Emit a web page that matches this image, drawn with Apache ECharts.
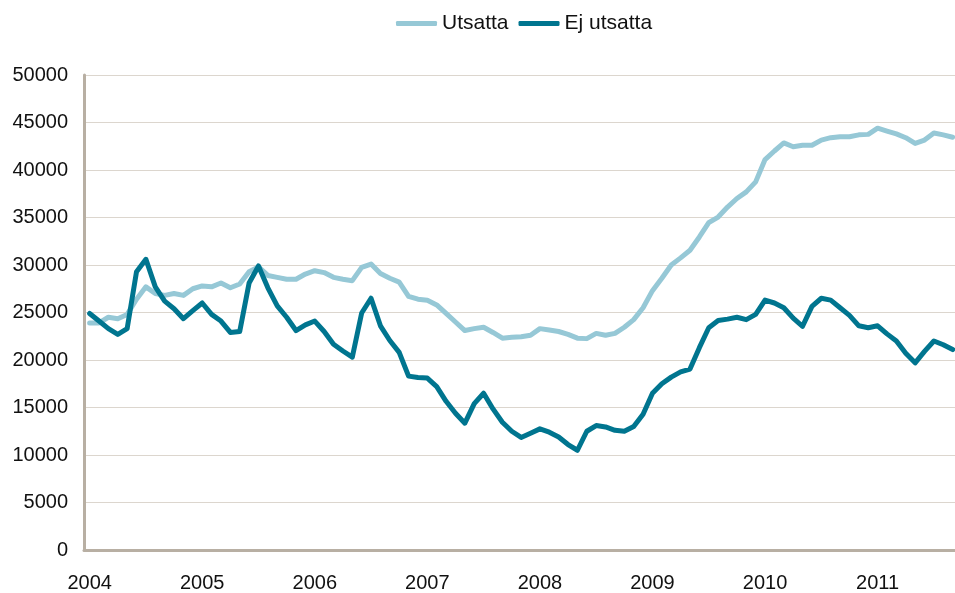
<!DOCTYPE html>
<html>
<head>
<meta charset="utf-8">
<script src="https://cdn.jsdelivr.net/npm/echarts@6/dist/echarts.min.js"></script>
<style>
html,body{margin:0;padding:0;background:#fff;}
#chart{width:955px;height:593px;}
</style>
</head>
<body>
<div id="chart"></div>
<script>
// Monthly data, Jan 2004 – Sep 2011
var yearLabels = ['2004','2005','2006','2007','2008','2009','2010','2011'];
var yTicks = [0,5000,10000,15000,20000,25000,30000,35000,40000,45000,50000];

var utsatta = [
23900,23900,24500,24350,24800,26400,27700,27000,26800,27000,26800,27500,
27800,27700,28100,27600,28000,29300,29800,28900,28700,28500,28500,29050,
29400,29200,28700,28500,28350,29750,30100,29100,28600,28200,26700,26400,
26300,25800,24900,24000,23100,23300,23450,22900,22300,22400,22450,22600,
23300,23150,23000,22700,22300,22250,22800,22600,22800,23450,24250,25500,
27300,28600,30000,30750,31550,32950,34450,35050,36100,37000,37700,38750,
41100,42000,42850,42450,42600,42600,43150,43400,43500,43500,43700,43750,
44400,44100,43800,43400,42800,43150,43900,43700,43450
];

var ejUtsatta = [
24900,24100,23300,22700,23300,29300,30600,27700,26200,25400,24350,25200,
26000,24800,24100,22900,23000,28100,29900,27600,25700,24500,23100,23700,
24100,23000,21650,20950,20300,24950,26500,23600,22050,20800,18300,18150,
18100,17200,15650,14400,13350,15400,16500,14850,13450,12500,11850,12300,
12750,12400,11900,11100,10500,12500,13100,12950,12600,12500,13000,14300,
16500,17500,18200,18750,19050,21300,23400,24150,24300,24500,24250,24800,
26300,26000,25500,24400,23550,25650,26500,26300,25500,24700,23600,23400,
23600,22750,22000,20700,19700,20900,22000,21600,21100
];

var seriesNames = ['Utsatta','Ej utsatta'];
var seriesColors = ['#96C8D6','#00758F'];

function toPairs(arr){ return arr.map(function(v,i){ return [i, v]; }); }
var yearPositions = yearLabels.map(function(_,k){ return k*12; });

var chart = echarts.init(document.getElementById('chart'), null, {renderer:'canvas'});
var font = '"Liberation Sans", Arial, Helvetica, sans-serif';
var axisColor = '#B8AFA3';

chart.setOption({
  animation: false,
  backgroundColor: '#ffffff',
  textStyle: { fontFamily: font },
  legend: {
    left: 396, top: 13, padding: 0,
    icon: 'roundRect',
    itemWidth: 41, itemHeight: 5, itemGap: 10,
    textStyle: { fontSize: 21, color: '#111', fontFamily: font },
    data: seriesNames
  },
  grid: { left: 84, right: 0, top: 75, bottom: 39, containLabel: false },
  xAxis: {
    type: 'value',
    min: -0.6, max: 92.25,
    splitLine: { show: false },
    axisTick: { show: false },
    axisLine: { show: true, onZero: false, lineStyle: { color: axisColor, width: 3 } },
    axisLabel: {
      customValues: yearPositions,
      formatter: function(v){ return yearLabels[Math.round(v/12)]; },
      fontSize: 20, color: '#111', margin: 23, fontFamily: font
    }
  },
  yAxis: {
    type: 'value',
    min: yTicks[0], max: yTicks[yTicks.length-1], interval: yTicks[1]-yTicks[0],
    axisLine: { show: true, onZero: false, lineStyle: { color: axisColor, width: 3 } },
    axisTick: { show: false },
    splitLine: { show: true, lineStyle: { color: '#DCD6CE', width: 1.2 } },
    axisLabel: {
      fontSize: 20, color: '#111', margin: 16, fontFamily: font,
      formatter: function(v){ return String(v); }
    }
  },
  series: [
    {
      name: seriesNames[0], type: 'line', data: toPairs(utsatta),
      symbol: 'none', smooth: false,
      lineStyle: { color: seriesColors[0], width: 5, join: 'round', cap: 'round' },
      itemStyle: { color: seriesColors[0] }, z: 2
    },
    {
      name: seriesNames[1], type: 'line', data: toPairs(ejUtsatta),
      symbol: 'none', smooth: false,
      lineStyle: { color: seriesColors[1], width: 5, join: 'round', cap: 'round' },
      itemStyle: { color: seriesColors[1] }, z: 3
    }
  ]
});
</script>
</body>
</html>
